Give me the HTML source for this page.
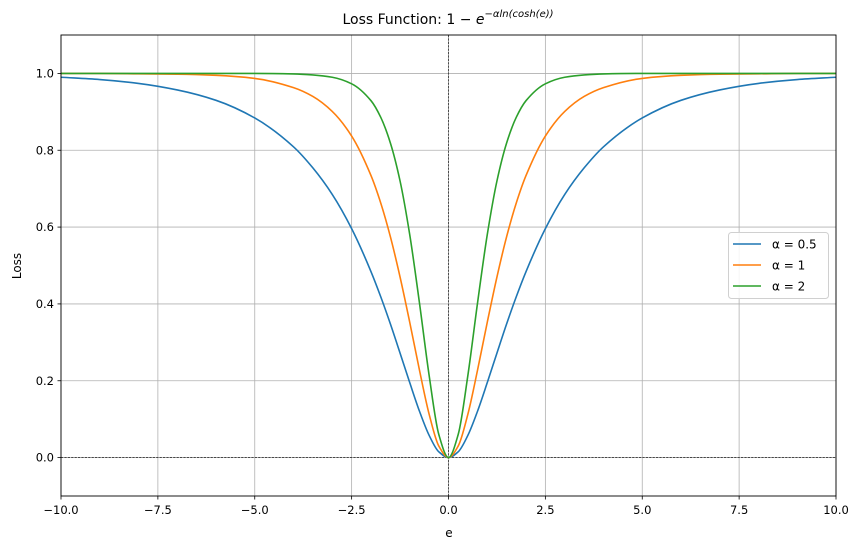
<!DOCTYPE html>
<html><head><meta charset="utf-8"><style>
body{margin:0;background:#fff;width:861px;height:550px;overflow:hidden}
svg{font-family:"DejaVu Sans","Liberation Sans",sans-serif}
</style></head><body>
<svg id="c" width="861" height="550"></svg>
<script>
const xs=[-10,-9,-8,-7,-6,-5,-4,-3.5,-3,-2.5,-2,-1.75,-1.5,-1.25,-1,-0.75,-0.5,-0.25,0,0.25,0.5,0.75,1,1.25,1.5,1.75,2,2.5,3,3.5,4,5,6,7,8,9,10];
const halfA05=[0,0.015,0.058,0.121,0.195,0.272,0.348,0.419,0.484,0.596,0.685,0.754,0.809,0.884,0.930,0.957,0.974,0.984,0.990];
const halfA1=[0,0.030,0.113,0.228,0.352,0.470,0.575,0.663,0.734,0.837,0.901,0.940,0.963,0.987,0.995,0.998,0.999,1.0,1.0];
const halfA2=[0,0.060,0.214,0.403,0.580,0.720,0.819,0.886,0.929,0.973,0.990,0.996,0.9987,1.0,1.0,1.0,1.0,1.0,1.0];
const seriesNames=["α = 0.5","α = 1","α = 2"];
const seriesColors=["#1f77b4","#ff7f0e","#2ca02c"];
const xTicks=[-10,-7.5,-5,-2.5,0,2.5,5,7.5,10];
const yTicks=[0,0.2,0.4,0.6,0.8,1.0];
function mirror(h){return h.slice(1).reverse().concat(h);}
const series=[mirror(halfA05),mirror(halfA1),mirror(halfA2)];
const L=61,R=836,T=35,B=496;
const sx=v=>L+(v+10)/20*(R-L);
const sy=v=>B-(v+0.1)/1.2*(B-T);
const svg=document.getElementById('c');const NS='http://www.w3.org/2000/svg';
function el(t,a,p){const e=document.createElementNS(NS,t);for(const k in a)e.setAttribute(k,a[k]);(p||svg).appendChild(e);return e;}
function monoPath(px,py){
const n=px.length,d=[],m=new Array(n);
for(let i=0;i<n-1;i++)d.push((py[i+1]-py[i])/(px[i+1]-px[i]));
m[0]=d[0];m[n-1]=d[n-2];
for(let i=1;i<n-1;i++){
if(d[i-1]*d[i]<=0)m[i]=0;
else{const h0=px[i]-px[i-1],h1=px[i+1]-px[i];const w1=2*h1+h0,w2=h1+2*h0;m[i]=(w1+w2)/(w1/d[i-1]+w2/d[i]);}
}
let s='M'+px[0]+','+py[0];
for(let i=0;i<n-1;i++){const h=px[i+1]-px[i];
s+=' C'+(px[i]+h/3)+','+(py[i]+m[i]*h/3)+' '+(px[i+1]-h/3)+','+(py[i+1]-m[i+1]*h/3)+' '+px[i+1]+','+py[i+1];}
return s;}
xTicks.forEach(v=>{
const g=el('line',{x1:sx(v),x2:sx(v),y1:T,y2:B,stroke:'#b0b0b0','stroke-width':0.8});


el('line',{x1:sx(v),x2:sx(v),y1:B,y2:B+3.5,stroke:'#000','stroke-width':0.8});
const t=el('text',{x:sx(v),y:B+18,'text-anchor':'middle','font-size':'11.5'});t.textContent=v.toFixed(1).replace('-','−');


});
yTicks.forEach(v=>{
const g=el('line',{x1:L,x2:R,y1:sy(v),y2:sy(v),stroke:'#b0b0b0','stroke-width':0.8});


el('line',{x1:L-3.5,x2:L,y1:sy(v),y2:sy(v),stroke:'#000','stroke-width':0.8});
const t=el('text',{x:L-7,y:sy(v)+4,'text-anchor':'end','font-size':'11.5'});t.textContent=v.toFixed(1);


});
el('line',{x1:sx(0),x2:sx(0),y1:T,y2:B,stroke:'#000','stroke-width':0.6,'stroke-dasharray':'2.2,1.2'});
el('line',{x1:L,x2:R,y1:sy(0),y2:sy(0),stroke:'#000','stroke-width':0.6,'stroke-dasharray':'2.2,1.2'});
series.forEach((s,i)=>{
const p=el('path',{d:monoPath(xs.map(sx),s.map(sy)),fill:'none',stroke:seriesColors[i],'stroke-width':1.6,'stroke-linejoin':'round'});


});
el('rect',{x:L,y:T,width:R-L,height:B-T,fill:'none',stroke:'#000','stroke-width':0.9});
const lg=el('rect',{x:728.5,y:232.5,width:100,height:66,rx:3,fill:'#fff','fill-opacity':0.85,stroke:'#d0d0d0'});


seriesNames.forEach((n,i)=>{
const y=244+i*21;
el('line',{x1:733,x2:761,y1:y,y2:y,stroke:seriesColors[i],'stroke-width':1.6});
const t=el('text',{x:772,y:y+4.5,'font-size':'12'});t.textContent=n;


});
</script>
<svg width="861" height="550" style="position:absolute;left:0;top:0">
<text x="448" y="24" text-anchor="middle" font-size="14" font-family="DejaVu Sans, sans-serif">Loss Function: 1 − <tspan font-style="italic">e</tspan><tspan dy="-7" font-size="10" font-style="italic">−αln(cosh(e))</tspan></text>
<text x="449" y="537" text-anchor="middle" font-size="12" font-family="DejaVu Sans, sans-serif">e</text>
<text transform="translate(21,266) rotate(-90)" text-anchor="middle" font-size="12" font-family="DejaVu Sans, sans-serif">Loss</text>
</svg>
</body></html>
